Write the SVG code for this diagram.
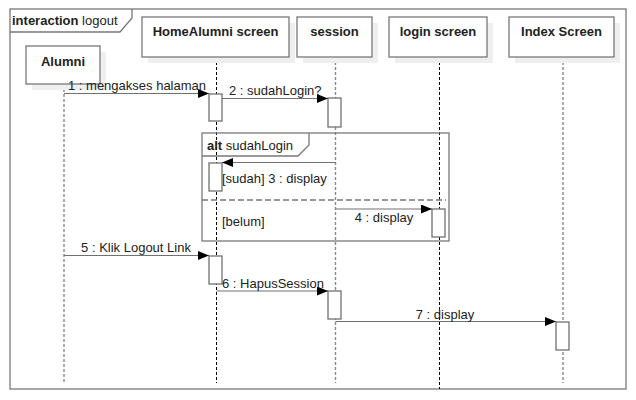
<svg xmlns="http://www.w3.org/2000/svg" width="636" height="400" viewBox="0 0 636 400">
<style>
text{font-family:"Liberation Sans",Arial,sans-serif;font-size:13px;fill:#222}
.hd{font-weight:bold;text-anchor:middle}
.box{fill:#fff;stroke:#787878;stroke-width:1.3}
.sh{fill:#efefef}
.frame{fill:none;stroke:#787878;stroke-width:1.3}
.ll1{stroke:#888;stroke-width:1.4;stroke-dasharray:3,2}
.ll2{stroke:#000;stroke-width:1;stroke-dasharray:3,2}
.msg{stroke:#707070;stroke-width:1.2;fill:none}
.act{fill:#fff;stroke:#707070;stroke-width:1.3}
</style>
<defs>
<marker id="ah" markerWidth="11" markerHeight="9" refX="11" refY="4.5" orient="auto" markerUnits="userSpaceOnUse">
<path d="M0,0 L11,4.5 L0,9 Z" fill="#000"/>
</marker>
</defs>
<rect width="636" height="400" fill="#fff"/>
<g id="frame">
<rect x="10" y="9" width="616" height="380" class="frame"/>
<path d="M10,32 L120,32 L132,18 L132,9" class="frame"/>
<text x="12" y="25" font-size="12.5"><tspan font-weight="bold">interaction</tspan> logout</text>
</g>
<g id="lifelines">
<line x1="64" y1="84" x2="64" y2="383" class="ll1"/>
<line x1="216.5" y1="57" x2="216.5" y2="383" class="ll2"/>
<line x1="335.5" y1="57" x2="335.5" y2="383" class="ll1"/>
<line x1="439.5" y1="57" x2="439.5" y2="389" class="ll2"/>
<line x1="563" y1="57" x2="563" y2="383" class="ll1"/>
</g>
<g id="n-alumni">
<rect x="32" y="52" width="74" height="38" class="sh"/>
<rect x="26" y="46" width="74" height="38" class="box"/>
<text x="63" y="66" class="hd">Alumni</text>
</g>
<g id="n-home">
<rect x="148" y="23" width="147" height="40" class="sh"/>
<rect x="142" y="17" width="147" height="40" class="box"/>
<text x="215.5" y="36" class="hd">HomeAlumni screen</text>
</g>
<g id="n-session">
<rect x="303" y="23" width="75" height="40" class="sh"/>
<rect x="297" y="17" width="75" height="40" class="box"/>
<text x="334.5" y="36" class="hd">session</text>
</g>
<g id="n-login">
<rect x="395" y="23" width="98" height="40" class="sh"/>
<rect x="389" y="17" width="98" height="40" class="box"/>
<text x="438" y="36" class="hd">login screen</text>
</g>
<g id="n-index">
<rect x="515" y="23" width="105" height="40" class="sh"/>
<rect x="509" y="17" width="105" height="40" class="box"/>
<text x="561.5" y="36" class="hd">Index Screen</text>
</g>
<g id="alt">
<rect x="202" y="133" width="247" height="108" class="frame"/>
<path d="M202,156 L298,156 L309,145 L309,133" class="frame"/>
<line x1="202" y1="200" x2="446" y2="200" stroke="#787878" stroke-width="1.3" stroke-dasharray="6,3"/>
<text x="207" y="150"><tspan font-weight="bold">alt</tspan> sudahLogin</text>
<text x="222" y="226">[belum]</text>
</g>
<g id="activations">
<rect x="209" y="94" width="13" height="27" class="act"/>
<rect x="328" y="98" width="13" height="29" class="act"/>
<rect x="209" y="163" width="13" height="28" class="act"/>
<rect x="432" y="209" width="13" height="28" class="act"/>
<rect x="209" y="256" width="13" height="28" class="act"/>
<rect x="328" y="291" width="13" height="28" class="act"/>
<rect x="556" y="322" width="13" height="28" class="act"/>
</g>
<g id="connectors">
<line x1="64" y1="93.5" x2="209" y2="93.5" class="msg" marker-end="url(#ah)"/>
<text x="68" y="90">1 : mengakses halaman</text>
<line x1="222" y1="98.5" x2="328" y2="98.5" class="msg" marker-end="url(#ah)"/>
<text x="229" y="95">2 : sudahLogin?</text>
<line x1="335.5" y1="162.5" x2="222" y2="162.5" class="msg" marker-end="url(#ah)"/>
<text x="222" y="183">[sudah] 3 : display</text>
<line x1="335.5" y1="209" x2="432" y2="209" class="msg" marker-end="url(#ah)"/>
<text x="384" y="222" text-anchor="middle">4 : display</text>
<line x1="64" y1="255.5" x2="209" y2="255.5" class="msg" marker-end="url(#ah)"/>
<text x="136" y="252" text-anchor="middle">5 : Klik Logout Link</text>
<line x1="216.5" y1="291" x2="328" y2="291" class="msg" marker-end="url(#ah)"/>
<text x="222" y="288">6 : HapusSession</text>
<line x1="335.5" y1="321.5" x2="556" y2="321.5" class="msg" marker-end="url(#ah)"/>
<text x="445" y="319" text-anchor="middle">7 : display</text>
</g>
</svg>
